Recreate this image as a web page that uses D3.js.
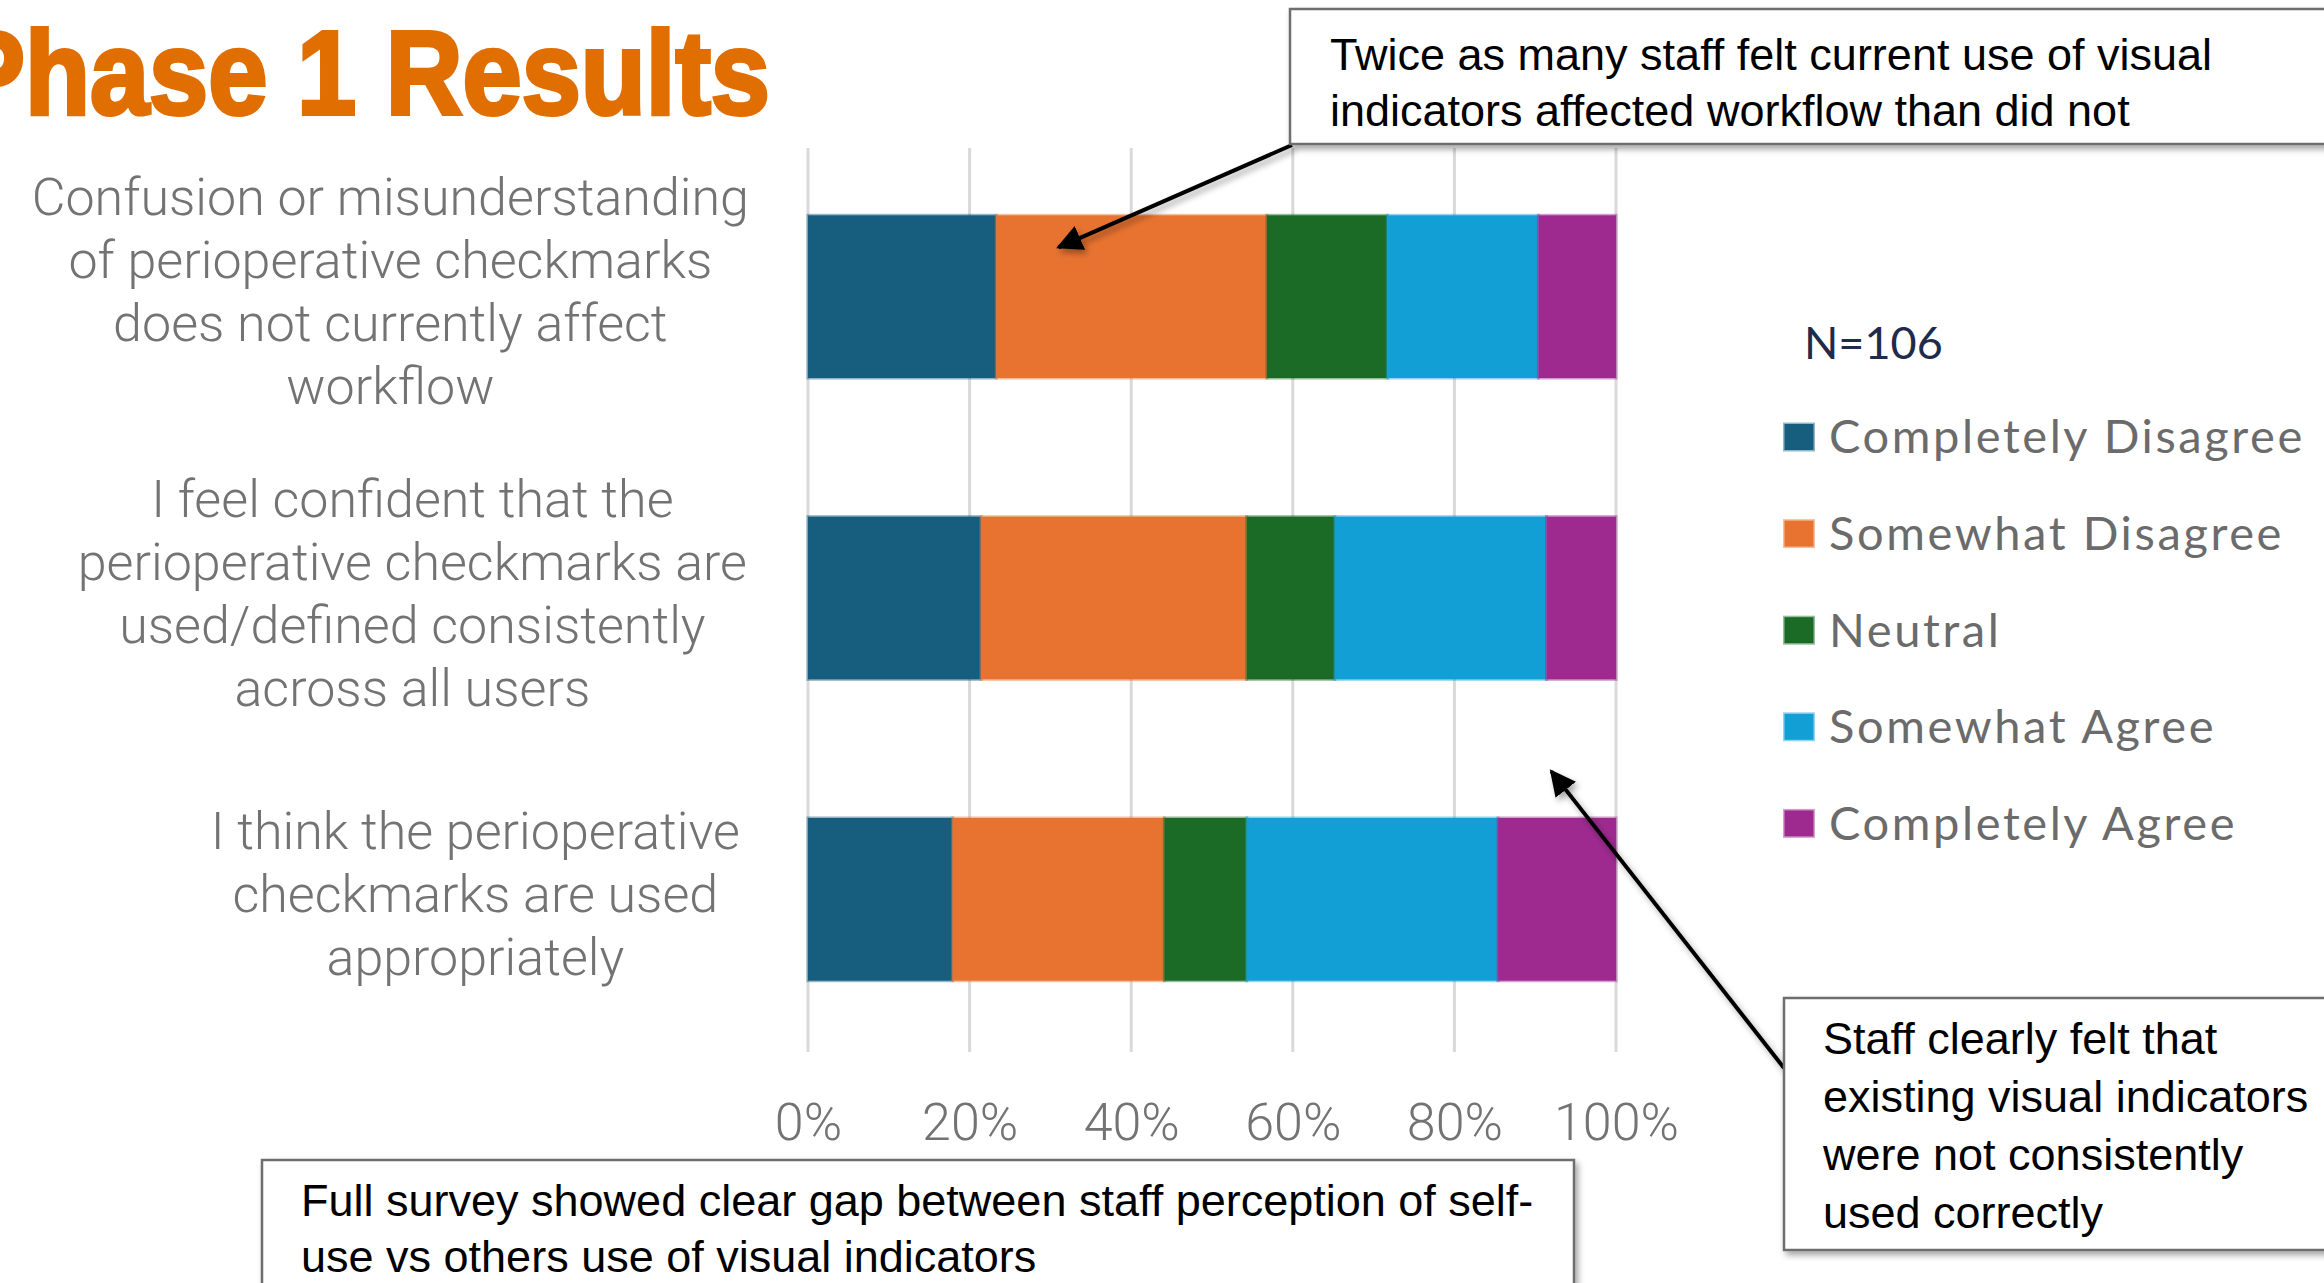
<!DOCTYPE html>
<html>
<head>
<meta charset="utf-8">
<script src="https://cdn.jsdelivr.net/npm/d3@7"></script>
<style>
  body { margin: 0; background: #fff; }
  svg { display: block; }
</style>
</head>
<body>
<svg width="2324" height="1283"></svg>
<script>
// survey questions, with the line breaks used on the slide
const questions = ["Q1", "Q2", "Q3"];
const questionLines = [
    ["Confusion or misunderstanding", "of perioperative checkmarks", "does not currently affect", "workflow"],
    ["I feel confident that the", "perioperative checkmarks are", "used/defined consistently", "across all users"],
    ["I think the perioperative", "checkmarks are used", "appropriately"]
];
const responses = ["Completely Disagree", "Somewhat Disagree", "Neutral", "Somewhat Agree", "Completely Agree"];
// percent of respondents (N=106)
const completelyDisagree = [23.3, 21.4, 17.9];
const somewhatDisagree = [33.5, 32.9, 26.2];
const neutral = [14.9, 10.9, 10.2];
const somewhatAgree = [18.7, 26.2, 31.1];
const completelyAgree = [9.6, 8.6, 14.6];
const colors = ["#165d7e", "#e87331", "#1b6a25", "#119fd6", "#9e2a8f"];
const xTicks = [0, 20, 40, 60, 80, 100];

const seriesValues = [completelyDisagree, somewhatDisagree, neutral, somewhatAgree, completelyAgree];
const rows = questions.map((q, i) => {
    let row = {q: q};
    responses.forEach((r, j) => row[r] = seriesValues[j][i]);
    return row;
});

const svg = d3.select("svg");

let defs = svg.append("defs");
let shadow = defs.append("filter").attr("id", "shadow")
    .attr("x", "-10%").attr("y", "-10%").attr("width", "130%").attr("height", "140%");
shadow.append("feDropShadow")
    .attr("dx", 3).attr("dy", 4).attr("stdDeviation", 3)
    .attr("flood-color", "#000").attr("flood-opacity", 0.35);
defs.append("marker")
    .attr("id", "head")
    .attr("viewBox", "0 0 10 10")
    .attr("refX", 9).attr("refY", 5)
    .attr("markerWidth", 6.5).attr("markerHeight", 6.5)
    .attr("markerUnits", "strokeWidth")
    .attr("orient", "auto")
    .append("path")
    .attr("d", "M0,0 L10,5 L0,10 z")
    .attr("fill", "#000");

const x = d3.scaleLinear().domain([0, 100]).range([808, 1616]);
const y = d3.scaleBand().domain(questions).range([146, 1050])
    .paddingInner(0.46).paddingOuter(0.23);
const color = d3.scaleOrdinal().domain(responses).range(colors);

// gridlines
svg.append("g")
    .selectAll("line")
    .data(xTicks)
    .join("line")
    .attr("x1", d => x(d)).attr("x2", d => x(d))
    .attr("y1", 148).attr("y2", 1052)
    .attr("stroke", "#d9d9d9")
    .attr("stroke-width", 3);

// stacked bars
const stack = d3.stack().keys(responses)(rows);
svg.append("g")
    .selectAll("g")
    .data(stack)
    .join("g")
    .attr("fill", d => color(d.key))
    .attr("stroke", d => color(d.key))
    .selectAll("rect")
    .data(d => d)
    .join("rect")
    .attr("x", d => x(d[0]))
    .attr("width", d => x(d[1]) - x(d[0]))
    .attr("y", d => y(d.data.q))
    .attr("height", y.bandwidth())
    .attr("stroke-width", 3)
    .attr("stroke-opacity", 0.45);

// x axis labels
const xAxis = svg.append("g")
    .attr("transform", "translate(0,1100)")
    .call(d3.axisBottom(x).tickValues(xTicks).tickFormat(d => d + "%").tickSize(0));
xAxis.select(".domain").remove();
xAxis.selectAll("text")
    .attr("font-family", "Roboto, 'Liberation Sans', sans-serif")
    .attr("font-weight", 300)
    .attr("font-size", 52)
    .attr("fill", "#737373")
    .attr("dy", "0.71em");

// category labels: lines centred, block right-aligned to the plot
const lineH = 63;
const labelRight = [749, 747, 740];
questions.forEach((q, i) => {
    let lines = questionLines[i];
    let cy = y(q) + y.bandwidth() / 2;
    let g = svg.append("g");
    let t = g.selectAll("text")
        .data(lines)
        .join("text")
        .attr("y", (d, k) => cy - (lines.length - 1) * lineH / 2 + 13 + k * lineH)
        .attr("text-anchor", "middle")
        .attr("font-family", "Roboto, 'Liberation Sans', sans-serif")
        .attr("font-weight", 300)
        .attr("font-size", 52)
        .attr("fill", "#737373")
        .text(d => d);
    let maxW = d3.max(t.nodes(), n => n.getComputedTextLength());
    t.attr("x", labelRight[i] - maxW / 2);
});

// title
svg.append("text")
    .attr("x", -46).attr("y", 114)
    .attr("textLength", 816)
    .attr("lengthAdjust", "spacingAndGlyphs")
    .attr("font-family", "'Liberation Sans', Arial, sans-serif")
    .attr("font-weight", 700)
    .attr("font-size", 118)
    .attr("fill", "#e06e00")
    .attr("stroke", "#e06e00")
    .attr("stroke-width", 4)
    .text("Phase 1 Results");

// legend
svg.append("text")
    .attr("x", 1804).attr("y", 359)
    .attr("font-family", "Lato, 'Open Sans', sans-serif")
    .attr("font-size", 45)
    .attr("fill", "#1e2b4a")
    .text("N=106");

const legend = svg.append("g")
    .selectAll("g")
    .data(responses)
    .join("g")
    .attr("transform", (d, i) => `translate(1783,${437 + i * 96.6})`);
legend.append("rect")
    .attr("x", 1.5).attr("y", -13)
    .attr("width", 29).attr("height", 26)
    .attr("fill", d => color(d))
    .attr("stroke", d => color(d))
    .attr("stroke-opacity", 0.45)
    .attr("stroke-width", 3);
legend.append("text")
    .attr("x", 46).attr("y", 0)
    .attr("dy", "0.35em")
    .attr("font-family", "Lato, 'Open Sans', sans-serif")
    .attr("font-size", 47)
    .attr("letter-spacing", 2.6)
    .attr("fill", "#6b6b6b")
    .text(d => d);

// callout boxes
function callout(bx, by, bw, bh, tx, lines, firstY, step) {
    let g = svg.append("g");
    g.append("rect")
        .attr("x", bx).attr("y", by)
        .attr("width", bw).attr("height", bh)
        .attr("fill", "#fff")
        .attr("stroke", "#6e6e6e")
        .attr("stroke-width", 2.5)
        .attr("filter", "url(#shadow)");
    g.selectAll("text")
        .data(lines)
        .join("text")
        .attr("x", tx)
        .attr("y", (d, k) => firstY + k * step)
        .attr("font-family", "'Liberation Sans', Arial, sans-serif")
        .attr("font-size", 45)
        .attr("fill", "#000")
        .text(d => d);
}

function arrow(x1, y1, x2, y2) {
    svg.append("line")
        .attr("x1", x1).attr("y1", y1)
        .attr("x2", x2).attr("y2", y2)
        .attr("stroke", "#000")
        .attr("stroke-width", 4)
        .attr("marker-end", "url(#head)")
        .attr("filter", "url(#shadow)");
}

// arrow targets anchored on the chart scales
arrow(1292, 145, x(31), y(questions[0]) + 32);
arrow(1784, 1068, x(92), y(questions[1]) + y.bandwidth() + 92);

callout(1290, 9, 1100, 135, 1330,
    ["Twice as many staff felt current use of visual", "indicators affected workflow than did not"], 70, 56);
callout(1784, 998, 600, 252, 1823,
    ["Staff clearly felt that", "existing visual indicators", "were not consistently", "used correctly"], 1054, 58);
callout(262, 1160, 1312, 200, 301,
    ["Full survey showed clear gap between staff perception of self-", "use vs others use of visual indicators"], 1216, 56);
</script>
</body>
</html>
